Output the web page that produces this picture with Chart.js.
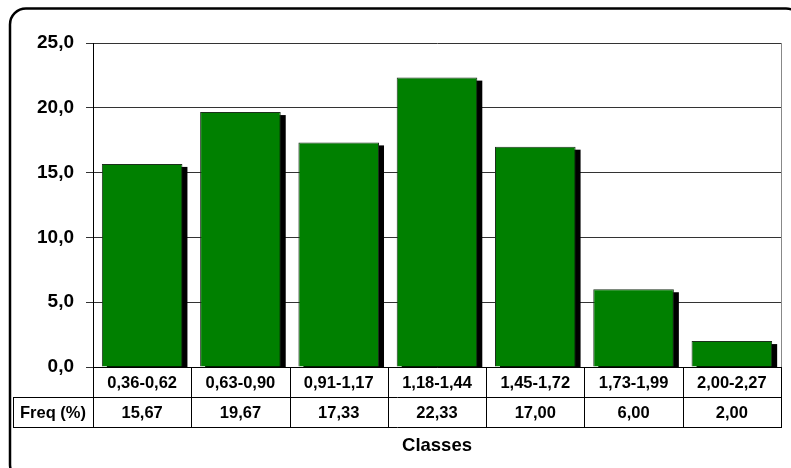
<!DOCTYPE html>
<html>
<head>
<meta charset="utf-8">
<script src="https://cdn.jsdelivr.net/npm/chart.js@4/dist/chart.umd.min.js"></script>
<style>
  html, body { margin: 0; padding: 0; background: #fff; }
  canvas { display: block; }
</style>
</head>
<body>
<canvas id="c" width="791" height="468"></canvas>
<script>
const categories = ["0,36-0,62", "0,63-0,90", "0,91-1,17", "1,18-1,44", "1,45-1,72", "1,73-1,99", "2,00-2,27"];
const freq = [15.67, 19.67, 17.33, 22.33, 17.00, 6.00, 2.00];
const rowLabel = "Freq (%)";
const axisTitle = "Classes";
const yMin = 0, yMax = 25, yStep = 5;

const FONT = "'Liberation Sans', Arial, sans-serif";
const fmt = (v, d) => v.toFixed(d).replace('.', ',');

const decorPlugin = {
  id: 'decor',
  beforeDatasetsDraw(chart) {
    const ctx = chart.ctx, a = chart.chartArea;
    const meta = chart.getDatasetMeta(0);
    ctx.save();
    ctx.beginPath();
    ctx.rect(a.left, a.top - 10, a.right - a.left, a.bottom - a.top + 10);
    ctx.clip();
    ctx.fillStyle = '#000';
    meta.data.forEach(b => {
      const p = b.getProps(['x', 'y', 'base', 'width'], true);
      ctx.fillRect(p.x - p.width / 2 + 5, p.y + 3, p.width, p.base - p.y);
    });
    ctx.restore();
  },
  afterDraw(chart) {
    const ctx = chart.ctx, a = chart.chartArea;
    const xs = chart.scales.x;
    const n = categories.length;
    const colW = (a.right - a.left) / n;
    const r1Top = a.bottom, r1Bot = a.bottom + 30, r2Bot = r1Bot + 30;
    const leftX = 13;
    ctx.save();
    ctx.strokeStyle = '#888';
    ctx.lineWidth = 1;
    ctx.beginPath();
    ctx.moveTo(Math.round(a.right) + 0.5, a.top);
    ctx.lineTo(Math.round(a.right) + 0.5, a.bottom);
    ctx.stroke();
    ctx.strokeStyle = '#000';
    ctx.beginPath();
    for (let i = 0; i <= n; i++) {
      const x = Math.round(a.left + i * colW) + 0.5;
      ctx.moveTo(x, r1Top);
      ctx.lineTo(x, r2Bot);
    }
    ctx.moveTo(leftX + 0.5, r1Bot);
    ctx.lineTo(leftX + 0.5, r2Bot);
    ctx.moveTo(leftX, r1Bot + 0.5);
    ctx.lineTo(Math.round(a.right) + 1, r1Bot + 0.5);
    ctx.moveTo(leftX, r2Bot + 0.5);
    ctx.lineTo(Math.round(a.right) + 1, r2Bot + 0.5);
    ctx.stroke();
    ctx.fillStyle = '#000';
    ctx.textAlign = 'center';
    ctx.textBaseline = 'middle';
    ctx.font = `bold 16.5px ${FONT}`;
    categories.forEach((c, i) => {
      const x = xs.getPixelForValue(i);
      ctx.fillText(c, x, (r1Top + r1Bot) / 2 + 1);
      ctx.fillText(fmt(freq[i], 2), x, (r1Bot + r2Bot) / 2 + 1);
    });
    ctx.fillText(rowLabel, (leftX + a.left) / 2, (r1Bot + r2Bot) / 2 + 1);
    ctx.font = `bold 18.5px ${FONT}`;
    ctx.fillText(axisTitle, (a.left + a.right) / 2, 446);
    ctx.lineWidth = 2.5;
    ctx.beginPath();
    ctx.roundRect(10, 8.5, 792, 472, 16);
    ctx.stroke();
    ctx.restore();
  }
};

new Chart(document.getElementById('c'), {
  type: 'bar',
  data: {
    labels: categories,
    datasets: [{
      data: freq,
      backgroundColor: '#008000',
      borderColor: '#1c301c',
      borderWidth: 1,
      borderSkipped: 'bottom',
      barPercentage: 0.82,
      categoryPercentage: 1.0
    }]
  },
  options: {
    responsive: false,
    animation: false,
    devicePixelRatio: 1,
    layout: { padding: { left: 0, right: 10, top: 43, bottom: 0 } },
    plugins: { legend: { display: false }, tooltip: { enabled: false } },
    scales: {
      x: {
        type: 'category',
        grid: { display: false },
        ticks: { display: false },
        border: { display: true, color: '#000', width: 1 },
        afterFit(s) { s.height = 101; }
      },
      y: {
        min: yMin, max: yMax,
        ticks: {
          stepSize: yStep,
          color: '#000',
          padding: 12,
          font: { family: FONT, size: 19, weight: 'bold' },
          callback: v => fmt(v, 1)
        },
        grid: { color: '#333', lineWidth: 1, tickLength: 7, drawTicks: true },
        border: { display: true, color: '#000', width: 1 },
        afterFit(s) { s.width = 93; }
      }
    }
  },
  plugins: [decorPlugin]
});
</script>
</body>
</html>
